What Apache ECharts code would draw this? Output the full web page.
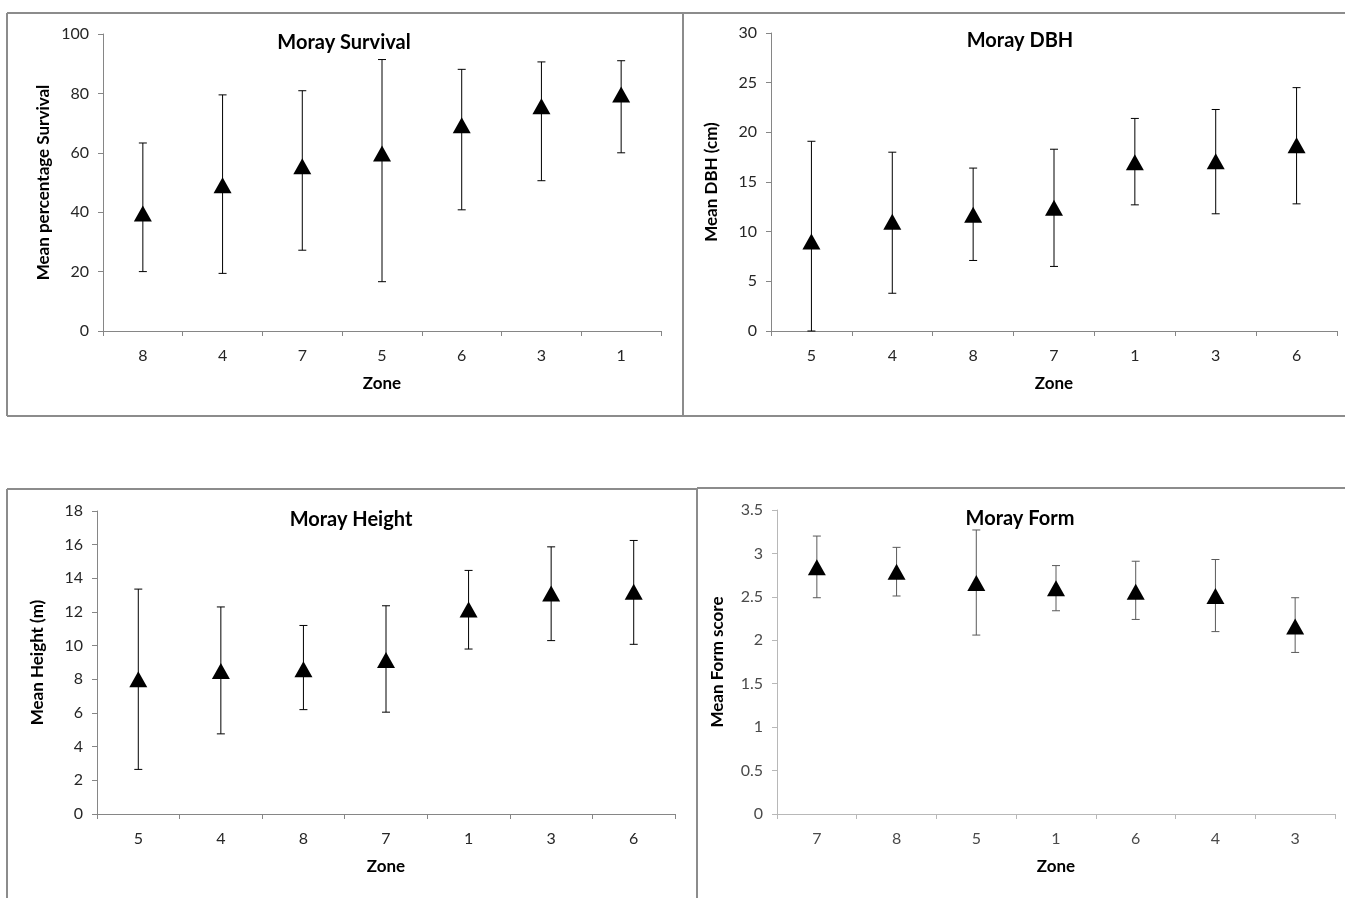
<!DOCTYPE html>
<html>
<head>
<meta charset="utf-8">
<script src="https://cdn.jsdelivr.net/npm/echarts@6/dist/echarts.min.js"></script>
<style>
  html, body { margin: 0; padding: 0; background: #ffffff; }
  #chart { width: 1345px; height: 898px; }
</style>
</head>
<body>
<div id="chart"></div>
<script>
// ---------- DATA ----------
const survivalZones = ['8', '4', '7', '5', '6', '3', '1'];
const survivalMean  = [39.6, 49.1, 55.5, 59.8, 69.3, 75.7, 79.6];
const survivalLow   = [20.0, 19.4, 27.2, 16.6, 40.8, 50.6, 60.0];
const survivalHigh  = [63.3, 79.5, 80.9, 91.4, 88.1, 90.6, 91.0];
const survivalTicks = { min: 0, max: 100, interval: 20 };

const dbhZones = ['5', '4', '8', '7', '1', '3', '6'];
const dbhMean  = [9.0, 11.0, 11.7, 12.4, 17.0, 17.1, 18.7];
const dbhLow   = [0.0, 3.8, 7.1, 6.5, 12.7, 11.8, 12.8];
const dbhHigh  = [19.1, 18.0, 16.4, 18.3, 21.4, 22.3, 24.5];
const dbhTicks = { min: 0, max: 30, interval: 5 };

const heightZones = ['5', '4', '8', '7', '1', '3', '6'];
const heightMean  = [8.0, 8.5, 8.6, 9.15, 12.15, 13.1, 13.2];
const heightLow   = [2.65, 4.76, 6.2, 6.05, 9.8, 10.3, 10.08];
const heightHigh  = [13.36, 12.3, 11.2, 12.37, 14.47, 15.87, 16.25];
const heightTicks = { min: 0, max: 18, interval: 2 };

const formZones = ['7', '8', '5', '1', '6', '4', '3'];
const formMean  = [2.84, 2.79, 2.66, 2.60, 2.56, 2.51, 2.16];
const formLow   = [2.49, 2.51, 2.06, 2.34, 2.24, 2.10, 1.86];
const formHigh  = [3.20, 3.07, 3.27, 2.86, 2.91, 2.93, 2.49];
const formTicks = { min: 0, max: 3.5, interval: 0.5 };

// ---------- BUILD ----------
const FONT = 'Lato';
const panels = [
  { title: 'Moray Survival', yName: 'Mean percentage Survival', zones: survivalZones, mean: survivalMean, low: survivalLow, high: survivalHigh, ticks: survivalTicks,
    grid: { left: 103, top: 34, width: 558, height: 297 }, titlePos: { x: 344, y: 33 }, axisColor: '#868686', labelColor: '#262626', barColor: '#000000' },
  { title: 'Moray DBH', yName: 'Mean DBH (cm)', zones: dbhZones, mean: dbhMean, low: dbhLow, high: dbhHigh, ticks: dbhTicks,
    grid: { left: 771, top: 33, width: 566, height: 298 }, titlePos: { x: 1020, y: 31 }, axisColor: '#868686', labelColor: '#262626', barColor: '#000000' },
  { title: 'Moray Height', yName: 'Mean Height (m)', zones: heightZones, mean: heightMean, low: heightLow, high: heightHigh, ticks: heightTicks,
    grid: { left: 97, top: 511, width: 578, height: 303 }, titlePos: { x: 351, y: 510 }, axisColor: '#868686', labelColor: '#262626', barColor: '#000000' },
  { title: 'Moray Form', yName: 'Mean Form score', zones: formZones, mean: formMean, low: formLow, high: formHigh, ticks: formTicks,
    grid: { left: 777, top: 510, width: 558, height: 304 }, titlePos: { x: 1020, y: 509 }, axisColor: '#b8b8b8', labelColor: '#4a4a4a', barColor: '#5a5a5a' }
];

const grids = [], xAxes = [], yAxes = [], series = [], titles = [];

panels.forEach((p, i) => {
  grids.push(Object.assign({ containLabel: false }, p.grid));
  titles.push({
    text: p.title, left: p.titlePos.x, top: p.titlePos.y, textAlign: 'center', padding: 0,
    textStyle: { fontFamily: FONT, fontSize: 20, fontWeight: 'bold', color: '#000' }
  });
  xAxes.push({
    type: 'category', gridIndex: i, data: p.zones, boundaryGap: true,
    name: 'Zone', nameLocation: 'middle', nameGap: 44,
    nameTextStyle: { fontFamily: FONT, fontSize: 17, fontWeight: 'bold', color: '#000' },
    axisLine: { show: true, lineStyle: { color: p.axisColor, width: 1 } },
    axisTick: { show: true, length: 5, inside: false, lineStyle: { color: p.axisColor } },
    axisLabel: { fontFamily: FONT, fontSize: 16, color: p.labelColor, margin: 17 },
    splitLine: { show: false }
  });
  yAxes.push({
    type: 'value', gridIndex: i, min: p.ticks.min, max: p.ticks.max, interval: p.ticks.interval,
    name: p.yName, nameLocation: 'middle', nameGap: 51, nameRotate: 90,
    nameTextStyle: { fontFamily: FONT, fontSize: 17, fontWeight: 'bold', color: '#000' },
    axisLine: { show: true, lineStyle: { color: p.axisColor, width: 1 } },
    axisTick: { show: true, length: 5, inside: false, lineStyle: { color: p.axisColor } },
    axisLabel: { fontFamily: FONT, fontSize: 16, color: p.labelColor, margin: 14 },
    splitLine: { show: false }
  });
  const barColor = p.barColor;
  series.push({
    type: 'custom', xAxisIndex: i, yAxisIndex: i, z: 2, silent: true,
    data: p.zones.map((z, k) => [k, p.low[k], p.high[k]]),
    renderItem: function (params, api) {
      const x = api.value(0);
      const lo = api.coord([x, api.value(1)]);
      const hi = api.coord([x, api.value(2)]);
      const cap = 4;
      const st = { stroke: barColor, lineWidth: 1 };
      return {
        type: 'group',
        children: [
          { type: 'line', shape: { x1: lo[0], y1: lo[1], x2: hi[0], y2: hi[1] }, style: st },
          { type: 'line', shape: { x1: lo[0] - cap, y1: lo[1], x2: lo[0] + cap, y2: lo[1] }, style: st },
          { type: 'line', shape: { x1: hi[0] - cap, y1: hi[1], x2: hi[0] + cap, y2: hi[1] }, style: st }
        ]
      };
    }
  });
  series.push({
    type: 'scatter', xAxisIndex: i, yAxisIndex: i, z: 3, silent: true,
    symbol: 'triangle', symbolSize: [18, 16],
    itemStyle: { color: '#000000', opacity: 1 },
    data: p.mean
  });
});

// panel frames
const frameStyle = { stroke: '#8c8c8c', lineWidth: 2 };
const frames = [
  [7, 13, 683, 13], [7, 13, 7, 416], [7, 416, 683, 416], [683, 13, 683, 416],
  [683, 13, 1345, 13], [683, 416, 1345, 416],
  [7, 489, 697, 489], [7, 489, 7, 898], [697, 489, 697, 898],
  [697, 488, 1345, 488]
].map(c => ({ type: 'line', shape: { x1: c[0], y1: c[1], x2: c[2], y2: c[3] }, style: frameStyle, silent: true }));

const chart = echarts.init(document.getElementById('chart'), null, { renderer: 'canvas' });
chart.setOption({
  backgroundColor: '#ffffff',
  animation: false,
  title: titles,
  grid: grids,
  xAxis: xAxes,
  yAxis: yAxes,
  series: series,
  graphic: frames
});
</script>
</body>
</html>
